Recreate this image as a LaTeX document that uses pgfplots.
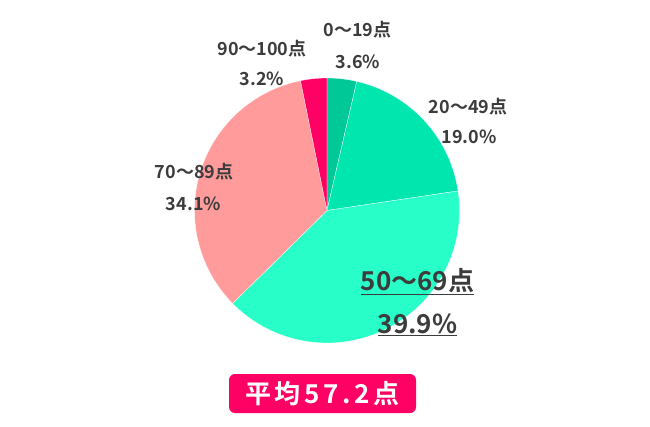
\documentclass[border=0pt]{standalone}
\usepackage{fontspec}
\setmainfont{Noto Sans CJK JP}[BoldFont={* Bold}]
\newfontfamily\badgefont{Noto Sans CJK JP}[BoldFont={* Bold},LetterSpace=14]
\usepackage{pgfplots}
\pgfplotsset{compat=1.18}

\definecolor{cA}{HTML}{00C896}
\definecolor{cB}{HTML}{00E6AF}
\definecolor{cC}{HTML}{28FFC8}
\definecolor{cD}{HTML}{FF9B9B}
\definecolor{cE}{HTML}{FF0064}
\definecolor{txt}{HTML}{3C3C3C}

% shares in percent, clockwise from the top
\def\pA{3.6}\def\pB{19.0}\def\pC{39.9}\def\pD{34.1}\def\pE{3.2}
\pgfmathsetmacro\total{\pA+\pB+\pC+\pD+\pE}
\def\cx{327}\def\cy{215.5}\def\R{132.5}

% #1 = share before the slice, #2 = share of the slice, #3 = colour
\newcommand\slice[3]{%
  \addplot[fill=#3, draw=white, line width=0.2pt, samples=80, variable=\t,
    domain={90-360*(#1)/\total}:{90-360*(#1+#2)/\total}]
    ({\cx+\R*cos(\t)}, {\cy+\R*sin(\t)}) -- (\cx,\cy) -- cycle;
}

\begin{document}
\begin{tikzpicture}
\begin{axis}[
    scale only axis,
    width=487.5pt, height=319.5pt,
    xmin=0, xmax=650, ymin=0, ymax=426,
    enlargelimits=false,
    hide axis,
    clip=false,
  ]
  \path (axis cs:0,0) rectangle (axis cs:650,426);

  \slice{0}{\pA}{cA}
  \slice{\pA}{\pB}{cB}
  \slice{\pA+\pB}{\pC}{cC}
  \slice{\pA+\pB+\pC}{\pD}{cD}
  \slice{\pA+\pB+\pC+\pD}{\pE}{cE}

  \begin{scope}[every node/.style={anchor=base, text=txt, font=\bfseries\fontsize{13.5pt}{16pt}\selectfont, inner sep=0pt}]
    \node at (axis cs:357.5,{426-37}) {0〜19点};
    \node at (axis cs:358,{426-68}) {3.6\%};
    \node at (axis cs:262,{426-55}) {90〜100点};
    \node at (axis cs:262,{426-85}) {3.2\%};
    \node at (axis cs:468,{426-113}) {20〜49点};
    \node at (axis cs:469,{426-143}) {19.0\%};
    \node at (axis cs:194,{426-178}) {70〜89点};
    \node at (axis cs:193.5,{426-210}) {34.1\%};
  \end{scope}
  \begin{scope}[every node/.style={anchor=base, text=txt, font=\bfseries\fontsize{19.5pt}{22pt}\selectfont, inner sep=0pt}]
    \node at (axis cs:417.5,{426-290}) {\underline{50〜69点}};
    \node at (axis cs:417.5,{426-333}) {\underline{39.9\%}};
  \end{scope}

  \node[fill=cE, rounded corners=4.5pt, minimum width=140.25pt, minimum height=29.25pt,
        inner sep=0pt, text=white, font=\badgefont\bfseries\fontsize{19.5pt}{21pt}\selectfont]
    at (axis cs:322.5,{426-393.5}) {平均57.2点};
\end{axis}
\end{tikzpicture}
\end{document}
